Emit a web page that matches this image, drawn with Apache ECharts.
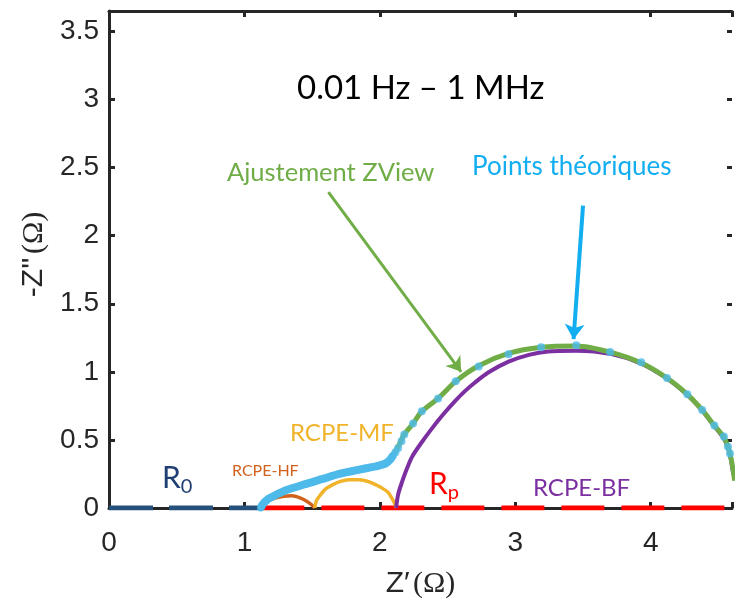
<!DOCTYPE html>
<html><head><meta charset="utf-8">
<script src="https://cdn.jsdelivr.net/npm/echarts@6/dist/echarts.min.js"></script>
<style>html,body{margin:0;padding:0;background:#fff}#c{width:735px;height:605px}</style>
</head><body><div id="c"></div>
<script>
// ---- data (Ohm) ----
const xTickValues = [0, 1, 2, 3, 4];
const yTickValues = [0, 0.5, 1, 1.5, 2, 2.5, 3, 3.5];
const r0X = [0, 1.125], r0Y = [0, 0];
const rpX = [1.125, 4.7], rpY = [0, 0];
const hfX = [1.12, 1.16, 1.22, 1.28, 1.35, 1.41, 1.46, 1.50, 1.52];
const hfY = [0, 0.04, 0.07, 0.085, 0.09, 0.075, 0.05, 0.02, 0];
const mfX = [1.52, 1.53, 1.56, 1.60, 1.65, 1.71, 1.77, 1.84, 1.90, 1.96, 2.01, 2.06, 2.09, 2.11, 2.12];
const mfY = [0, 0.05, 0.095, 0.14, 0.17, 0.195, 0.207, 0.207, 0.198, 0.176, 0.15, 0.115, 0.07, 0.03, 0];
const bfX = [2.12, 2.135, 2.165, 2.2, 2.24, 2.3, 2.385, 2.47, 2.555, 2.63, 2.7, 2.8, 2.95, 3.1, 3.24, 3.45, 3.71, 3.93, 4.12, 4.27, 4.38, 4.47, 4.54, 4.57, 4.59, 4.61];
const bfY = [0, 0.1, 0.195, 0.29, 0.38, 0.47, 0.585, 0.69, 0.785, 0.86, 0.92, 0.995, 1.075, 1.125, 1.15, 1.155, 1.13, 1.06, 0.95, 0.83, 0.715, 0.6, 0.51, 0.445, 0.365, 0.245];
const fitX = [1.12, 1.15, 1.2, 1.25, 1.35, 1.45, 1.55, 1.65, 1.74, 1.84, 1.94, 2.01, 2.06, 2.10, 2.135, 2.18, 2.245, 2.31, 2.43, 2.56, 2.73, 2.95, 3.19, 3.45, 3.70, 3.93, 4.12, 4.27, 4.38, 4.47, 4.54, 4.57, 4.585, 4.605, 4.62];
const fitY = [0, 0.035, 0.075, 0.105, 0.145, 0.176, 0.206, 0.235, 0.26, 0.28, 0.30, 0.316, 0.34, 0.39, 0.45, 0.54, 0.62, 0.71, 0.805, 0.93, 1.045, 1.135, 1.18, 1.19, 1.145, 1.065, 0.955, 0.835, 0.72, 0.605, 0.52, 0.45, 0.40, 0.30, 0.2];
const denseX = [1.12, 1.13, 1.15, 1.18, 1.22, 1.255, 1.3, 1.35, 1.4, 1.45, 1.5, 1.55, 1.6, 1.645, 1.69, 1.74, 1.79, 1.84, 1.89, 1.94, 1.98, 2.01, 2.04, 2.06, 2.08, 2.10];
const denseY = [0.0, 0.02, 0.045, 0.07, 0.09, 0.108, 0.128, 0.145, 0.16, 0.176, 0.19, 0.206, 0.22, 0.235, 0.248, 0.26, 0.27, 0.28, 0.29, 0.30, 0.308, 0.316, 0.326, 0.34, 0.36, 0.39];
const sparseX = [2.115, 2.135, 2.16, 2.18, 2.245, 2.31, 2.43, 2.56, 2.73, 2.95, 3.19, 3.45, 3.70, 3.93, 4.12, 4.27, 4.38, 4.47, 4.54, 4.57, 4.585];
const sparseY = [0.41, 0.44, 0.49, 0.54, 0.62, 0.71, 0.805, 0.93, 1.04, 1.13, 1.18, 1.195, 1.145, 1.07, 0.955, 0.835, 0.72, 0.605, 0.525, 0.45, 0.40];
const fitArrow = [[1.62, 2.32], [2.60, 1.00]];
const ptsArrow = [[3.50, 2.22], [3.43, 1.24]];

const zip = (a, b) => a.map((v, i) => [v, b[i]]);
const AX = '#262626';
const tickFmt = (ticks) => (v) => ticks.some(t => Math.abs(t - v) < 1e-9) ? String(v) : '';

const chart = echarts.init(document.getElementById('c'), null, {renderer: 'canvas'});
const line = (name, d, color, width, z, extra) => Object.assign({
  type: 'line', name, data: d, showSymbol: false, symbol: 'none', z,
  lineStyle: {color, width}, animation: false, silent: true
}, extra || {});
const axLine = {show: true, onZero: false, lineStyle: {color: AX, width: 3}};
const axTick = {show: true, inside: true, length: 6, lineStyle: {color: AX, width: 3}};

chart.setOption({
  animation: false,
  grid: {left: 109, right: 0, top: 11, bottom: 97},
  xAxis: [{
    type: 'value', min: 0, max: 4.6, interval: 1,
    axisLine: axLine, axisTick: axTick,
    axisLabel: {formatter: tickFmt(xTickValues), color: AX, fontSize: 28, fontFamily: 'Liberation Sans', margin: 21},
    splitLine: {show: false},
    name: '{a|Z′} {b|(Ω)}', nameLocation: 'middle', nameGap: 61,
    nameTextStyle: {color: AX, rich: {a: {fontSize: 30, fontFamily: 'Liberation Sans', color: AX}, b: {fontSize: 30, fontFamily: 'Liberation Serif', color: AX}}}
  }, {
    type: 'value', min: 0, max: 4.6, interval: 1, position: 'top',
    axisLine: axLine, axisTick: axTick,
    axisLabel: {show: false}, splitLine: {show: false}
  }],
  yAxis: [{
    type: 'value', min: 0, max: 3.65, interval: 0.5,
    axisLine: axLine, axisTick: axTick,
    axisLabel: {formatter: tickFmt(yTickValues), color: AX, fontSize: 28, fontFamily: 'Liberation Sans', margin: 10},
    splitLine: {show: false},
    name: "{a|-Z''} {b|(Ω)}", nameLocation: 'middle', nameGap: 60, nameRotate: 90,
    nameTextStyle: {color: AX, padding: [0, 0, 0, 10], rich: {a: {fontSize: 30, fontFamily: 'Liberation Sans', color: AX}, b: {fontSize: 30, fontFamily: 'Liberation Serif', color: AX}}}
  }, {
    type: 'value', min: 0, max: 3.65, interval: 0.5, position: 'right',
    axisLine: {show: false, onZero: false}, axisTick: {show: true, inside: true, length: 5, lineStyle: {color: AX, width: 3}},
    axisLabel: {show: false}, splitLine: {show: false}
  }],
  series: [
    line('R0', zip(r0X, r0Y), '#24507a', 5, 3, {lineStyle: {color: '#24507a', width: 5, type: [44, 16], cap: 'butt'}}),
    line('Rp', zip(rpX, rpY), '#ff0000', 5, 3, {lineStyle: {color: '#ff0000', width: 5, type: [43, 17], cap: 'butt'}}),
    line('RCPE-HF', zip(hfX, hfY), '#d0621d', 3.5, 4, {smooth: 0.3}),
    line('RCPE-MF', zip(mfX, mfY), '#f0b32a', 3.5, 4, {smooth: 0.3}),
    line('RCPE-BF', zip(bfX, bfY), '#7b2fa0', 4, 5, {smooth: 0.3}),
    line('Ajustement ZView', zip(fitX, fitY), '#70ad47', 5, 6, {
      smooth: 0.3,
      markLine: {silent: true, symbol: ['none', 'arrow'], symbolSize: 14, label: {show: false},
        lineStyle: {color: '#70ad47', width: 3, type: 'solid'},
        data: [[{coord: fitArrow[0]}, {coord: fitArrow[1]}]]}
    }),
    line('Points théoriques dense', zip(denseX, denseY), '#4dbaea', 8, 7, {
      showSymbol: true, symbol: 'circle', symbolSize: 7, itemStyle: {color: '#4dbaea'},
      markLine: {silent: true, symbol: ['none', 'arrow'], symbolSize: 15, label: {show: false},
        lineStyle: {color: '#12aef0', width: 4, type: 'solid'},
        data: [[{coord: ptsArrow[0]}, {coord: ptsArrow[1]}]]}
    }),
    {type: 'scatter', name: 'Points théoriques', data: zip(sparseX, sparseY), symbol: 'circle', symbolSize: 8,
      itemStyle: {color: '#4dbaea'}, z: 8, silent: true}
  ],
  graphic: [
    {type: 'text', left: 297, top: 72, style: {text: '0.01 Hz – 1 MHz', font: '33px Lato', fill: '#000'}},
    {type: 'text', left: 227, top: 160, style: {text: 'Ajustement ZView', font: '25.5px Lato', fill: '#70ad47'}},
    {type: 'text', left: 472, top: 154, style: {text: 'Points théoriques', font: '26px Lato', fill: '#12aef0'}},
    {type: 'text', left: 290, top: 421, style: {text: 'RCPE-MF', font: '24px Lato', fill: '#f0b32a'}},
    {type: 'text', left: 232, top: 463, style: {text: 'RCPE-HF', font: '16px Lato', fill: '#d0621d'}},
    {type: 'text', left: 533, top: 476, style: {text: 'RCPE-BF', font: '24px Lato', fill: '#7b2fa0'}},
    {type: 'text', left: 162, top: 463, style: {text: '{r|R}{s|0}', rich: {r: {font: '30px Lato', fill: '#1f3f73', verticalAlign: 'bottom'}, s: {font: '20px Lato', fill: '#1f3f73', padding: [0, 0, -4, 0], verticalAlign: 'bottom'}}}},
    {type: 'text', left: 429, top: 469, style: {text: '{r|R}{s|p}', rich: {r: {font: '30px Lato', fill: '#ff0000', verticalAlign: 'bottom'}, s: {font: '20px Lato', fill: '#ff0000', padding: [0, 0, -4, 0], verticalAlign: 'bottom'}}}}
  ]
});
</script></body></html>
